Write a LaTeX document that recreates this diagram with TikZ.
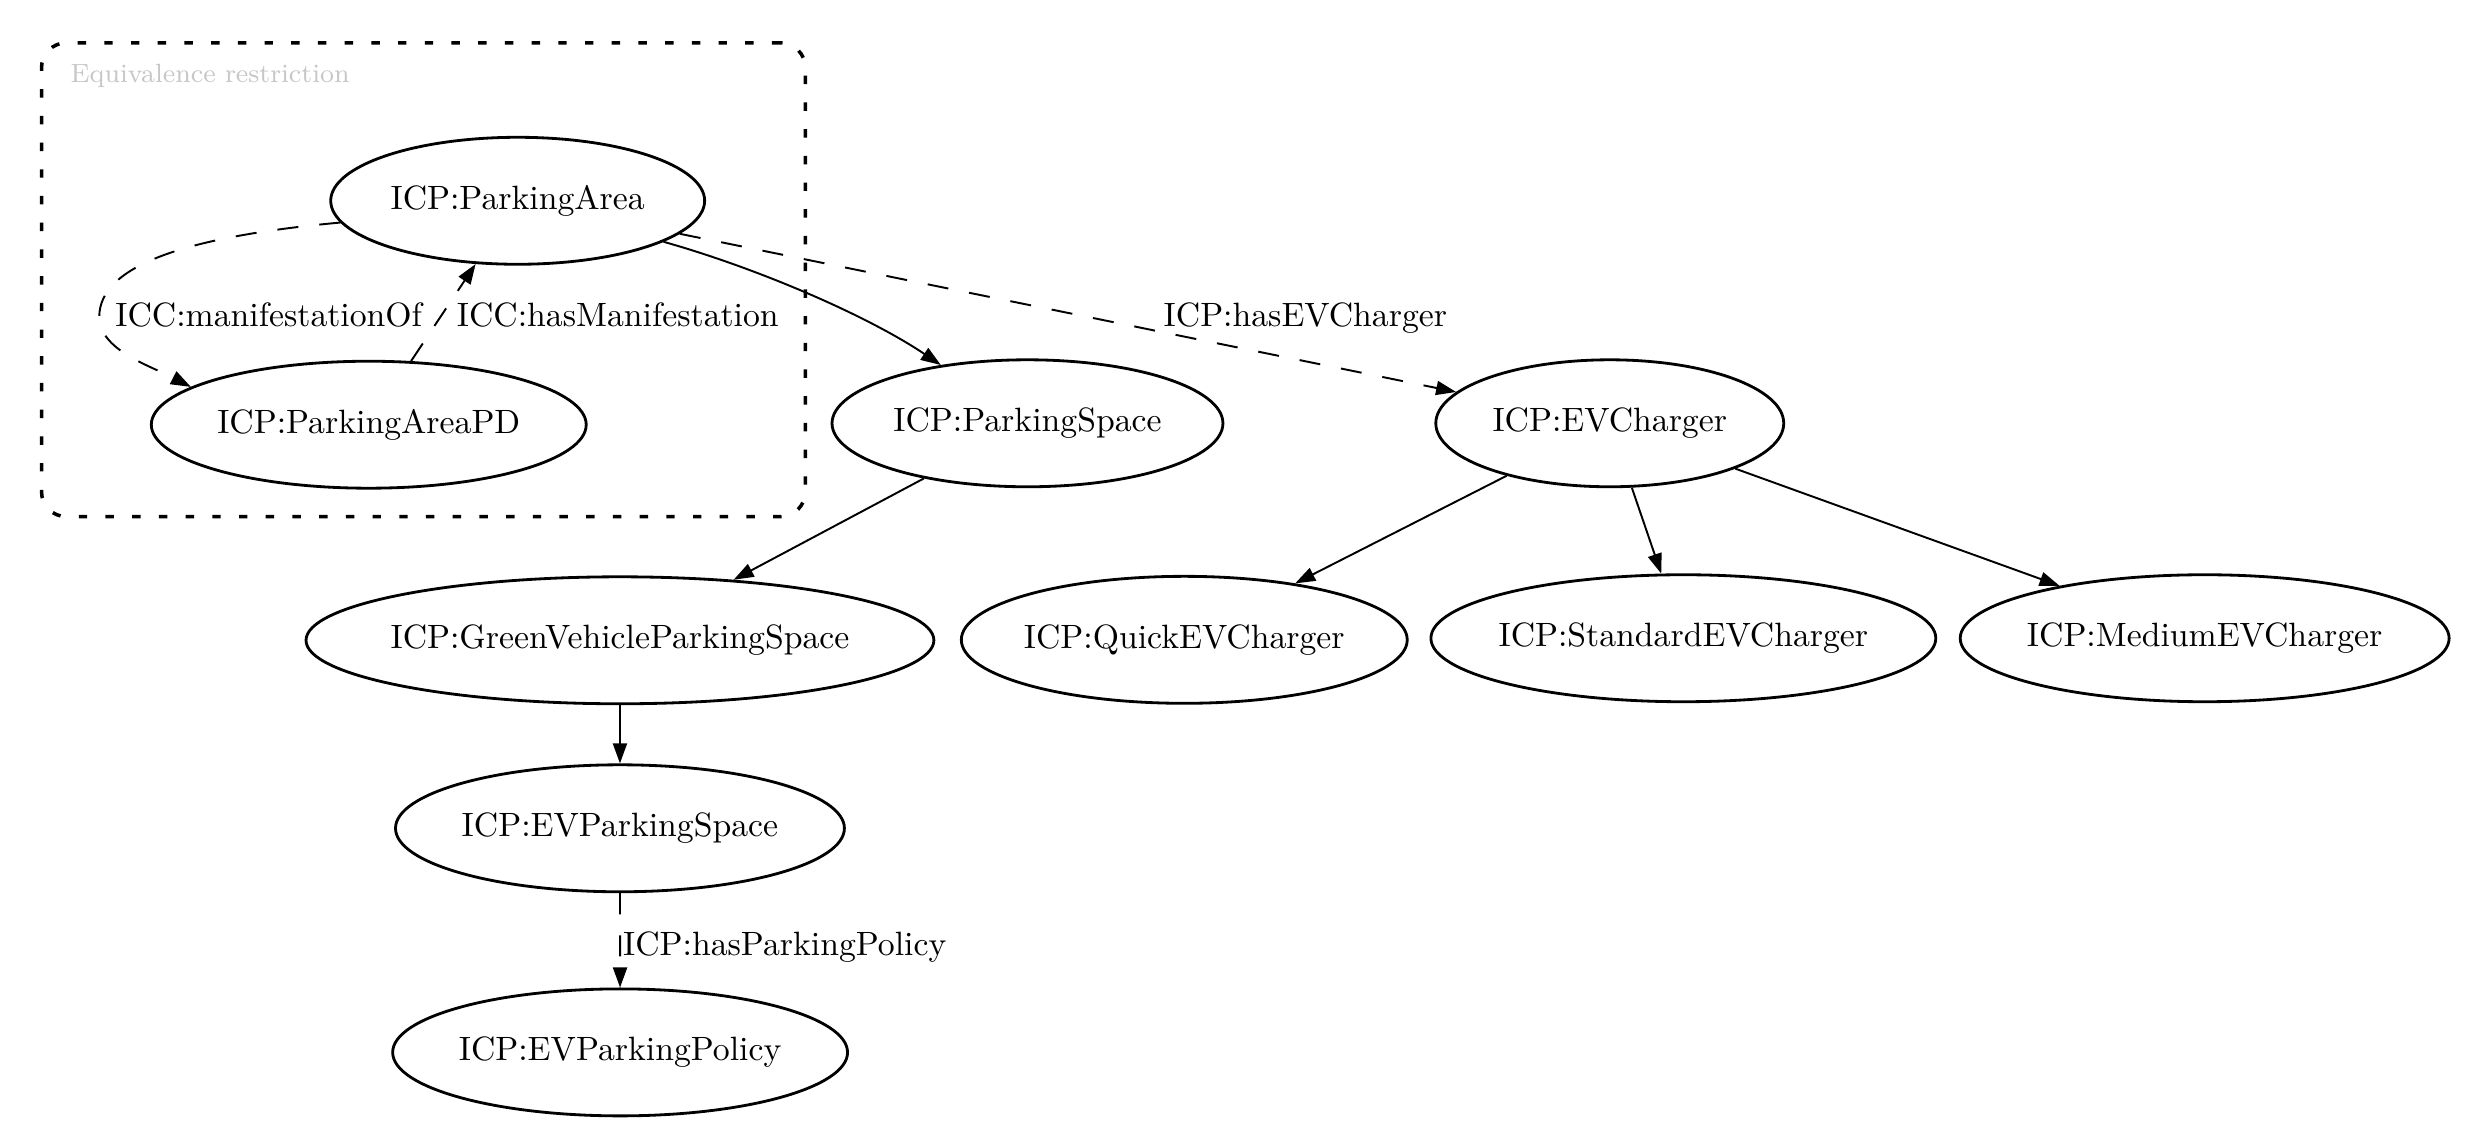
\documentclass[tikz,border=0pt]{standalone}
\usepackage{tikz}
\usetikzlibrary{arrows.meta}
\usetikzlibrary{shapes.geometric}
\usetikzlibrary{positioning}
\tikzset{
    concept/.style={
        ellipse,
        draw=black,
        line width=0.8pt,
        inner xsep=-2cm,
        minimum height=1.27cm
    },
    link/.style={
        -{Triangle[length=5.7pt,width=4pt]},
        line width=0.55pt,
        draw=black
    },
    prop/.style={
        link,
        dash pattern=on 6pt off 6pt
    },
    proptext/.style={anchor=base west, inner sep=0pt}
}

\begin{document}
\begin{tikzpicture}[x=0.01576cm, y=-0.01576cm, font=\fontsize{9.6}{11.5}\selectfont]
        \useasboundingbox (0,0) rectangle (1568,718);

        % Equivalence restriction cluster
        \node (cluster) [draw, line width=1pt, dash pattern=on 2.4pt off 5.2pt, rounded corners=0.25cm, minimum width=7.64cm, minimum height=4.74cm] at (268.7,177.5) {};
        \node (cluster_text) [anchor=west, inner sep=0pt, font=\fontsize{7.5}{9}\selectfont, text=black!22] at (44.4,48) {Equivalence restriction};

        % Classes in the cluster
        \node (parking_area) [concept, minimum width=3.74cm] at (328.5,127.4) {ICP:ParkingArea};
        \node (parking_area_pd) [concept, minimum width=4.35cm] at (234,269.5) {ICP:ParkingAreaPD};

        % Second row
        \node (parking_space) [concept, minimum width=3.91cm] at (652,268.6) {ICP:ParkingSpace};
        \node (ev_charger) [concept, minimum width=3.48cm] at (1021.5,268.6) {ICP:EVCharger};

        % Third row
        \node (green_space) [concept, minimum width=6.28cm] at (393.4,406.3) {ICP:GreenVehicleParkingSpace};
        \node (quick) [concept, minimum width=4.46cm] at (751.5,406) {ICP:QuickEVCharger};
        \node (standard) [concept, minimum width=5.05cm] at (1068.2,405) {ICP:StandardEVCharger};
        \node (medium) [concept, minimum width=4.89cm] at (1399,405) {ICP:MediumEVCharger};

        % EV parking
        \node (ev_space) [concept, minimum width=4.49cm] at (393.4,525.6) {ICP:EVParkingSpace};
        \node (ev_policy) [concept, minimum width=4.55cm] at (393.5,667.8) {ICP:EVParkingPolicy};

        % Edge labels
        \node (manifestation_of_text) [proptext] at (72.8,207.3) {ICC:manifestationOf};
        \node (has_manifestation_text) [proptext] at (289.5,207.3) {ICC:hasManifestation};
        \node (has_ev_charger_text) [proptext] at (738,206.9) {ICP:hasEVCharger};
        \node (has_policy_text) [proptext] at (395,606) {ICP:hasParkingPolicy};

        % Arrows
        \draw [prop] (parking_area.187) .. controls (120,150) and (63,168) .. (63,201) .. controls (63,222) and (95,232) .. (parking_area_pd.168);
        \draw [prop] (parking_area_pd) -- (parking_area);
        \draw [prop] (parking_area) -- (ev_charger);
        \draw [link] (parking_area) .. controls (480,170) and (550,200) .. (parking_space);
        \draw [link] (parking_space) -- (green_space);
        \draw [link] (green_space) -- (ev_space);
        \draw [prop] (ev_space) -- (ev_policy);
        \draw [link] (ev_charger) -- (quick);
        \draw [link] (ev_charger) -- (standard);
        \draw [link] (ev_charger) -- (medium);

    \end{tikzpicture}
\end{document}
